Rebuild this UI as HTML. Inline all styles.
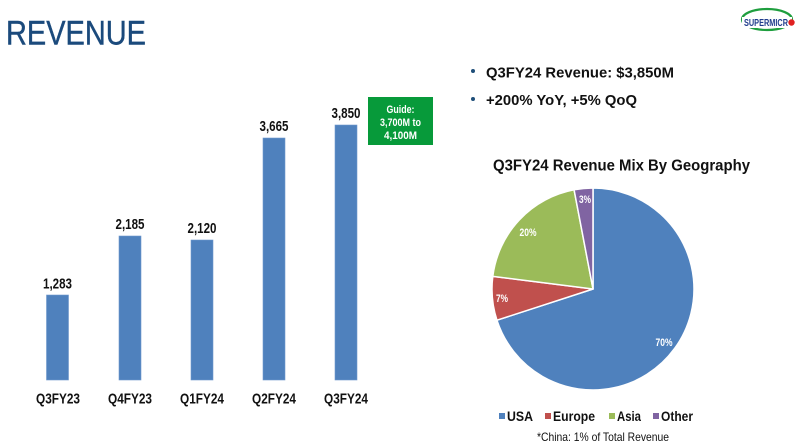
<!DOCTYPE html>
<html>
<head>
<meta charset="utf-8">
<style>
  html,body{margin:0;padding:0;background:#ffffff;}
  svg{display:block;}
  text{font-family:"Liberation Sans", Arial, sans-serif;}
</style>
</head>
<body>
<svg width="800" height="444" viewBox="0 0 800 444" xmlns="http://www.w3.org/2000/svg">
  <rect x="0" y="0" width="800" height="444" fill="#ffffff"/>

  <!-- Title -->
  <text x="6" y="44.5" font-size="34" fill="#1B4A7C" stroke="#1B4A7C" stroke-width="0.4" textLength="140" lengthAdjust="spacingAndGlyphs">REVENUE</text>

  <!-- Logo -->
  <ellipse cx="767" cy="19.5" rx="25" ry="10.5" fill="none" stroke="#1E9E3E" stroke-width="2.2"/>
  <rect x="742" y="17" width="50" height="11" fill="#ffffff"/>
  <text x="744" y="26" font-family="Liberation Serif, serif" font-size="10" font-weight="bold" fill="#1F3C8C" textLength="44" lengthAdjust="spacingAndGlyphs">SUPERMICR</text>
  <circle cx="791.5" cy="22.5" r="3.2" fill="#E02020"/>

  <!-- Bars -->
  <g fill="#4F81BD" stroke="#7099cc" stroke-width="0.6">
    <rect x="46.5" y="295" width="22" height="85"/>
    <rect x="119" y="236" width="22" height="144"/>
    <rect x="191" y="240" width="22" height="140"/>
    <rect x="263" y="138" width="22" height="242"/>
    <rect x="335" y="125" width="22" height="255"/>
  </g>

  <!-- Value labels -->
  <g font-size="15" font-weight="bold" fill="#111" text-anchor="middle">
    <text x="57.5" y="288.5" textLength="29" lengthAdjust="spacingAndGlyphs">1,283</text>
    <text x="130" y="229" textLength="29" lengthAdjust="spacingAndGlyphs">2,185</text>
    <text x="202" y="233" textLength="29" lengthAdjust="spacingAndGlyphs">2,120</text>
    <text x="274" y="131" textLength="29" lengthAdjust="spacingAndGlyphs">3,665</text>
    <text x="346" y="118" textLength="29" lengthAdjust="spacingAndGlyphs">3,850</text>
  </g>

  <!-- X labels -->
  <g font-size="15" font-weight="bold" fill="#111" text-anchor="middle">
    <text x="58" y="403.5" textLength="44" lengthAdjust="spacingAndGlyphs">Q3FY23</text>
    <text x="130" y="403.5" textLength="44" lengthAdjust="spacingAndGlyphs">Q4FY23</text>
    <text x="202" y="403.5" textLength="44" lengthAdjust="spacingAndGlyphs">Q1FY24</text>
    <text x="274" y="403.5" textLength="44" lengthAdjust="spacingAndGlyphs">Q2FY24</text>
    <text x="346" y="403.5" textLength="44" lengthAdjust="spacingAndGlyphs">Q3FY24</text>
  </g>

  <!-- Guide box -->
  <rect x="368" y="97" width="65" height="48" fill="#079A3A"/>
  <g font-size="11" font-weight="bold" fill="#ffffff" text-anchor="middle">
    <text x="400.5" y="113" textLength="28" lengthAdjust="spacingAndGlyphs">Guide:</text>
    <text x="400.5" y="126" textLength="41" lengthAdjust="spacingAndGlyphs">3,700M to</text>
    <text x="400.5" y="139" textLength="33" lengthAdjust="spacingAndGlyphs">4,100M</text>
  </g>

  <!-- Bullets -->
  <circle cx="473" cy="71" r="2" fill="#1F4E79"/>
  <circle cx="473" cy="99" r="2" fill="#1F4E79"/>
  <g font-size="15" font-weight="bold" fill="#111">
    <text x="486" y="77.5" textLength="188" lengthAdjust="spacingAndGlyphs">Q3FY24 Revenue: $3,850M</text>
    <text x="486" y="105" textLength="151" lengthAdjust="spacingAndGlyphs">+200% YoY, +5% QoQ</text>
  </g>

  <!-- Pie title -->
  <text x="493" y="170.5" font-size="16" font-weight="bold" fill="#111" textLength="257" lengthAdjust="spacingAndGlyphs">Q3FY24 Revenue Mix By Geography</text>

  <!-- Pie -->
  <g stroke="#ffffff" stroke-width="1.5" stroke-linejoin="round">
    <path d="M593,289 L593,188 A101,101 0 1 1 496.94,320.21 Z" fill="#4F81BD"/>
    <path d="M593,289 L496.94,320.21 A101,101 0 0 1 492.80,276.34 Z" fill="#C0504D"/>
    <path d="M593,289 L492.80,276.34 A101,101 0 0 1 574.07,189.79 Z" fill="#9BBB59"/>
    <path d="M593,289 L574.07,189.79 A101,101 0 0 1 593,188 Z" fill="#8064A2"/>
  </g>
  <g font-size="11" font-weight="bold" fill="#ffffff" text-anchor="middle">
    <text x="664" y="346" textLength="17" lengthAdjust="spacingAndGlyphs">70%</text>
    <text x="502" y="302" textLength="12" lengthAdjust="spacingAndGlyphs">7%</text>
    <text x="528" y="236" textLength="17" lengthAdjust="spacingAndGlyphs">20%</text>
    <text x="585" y="203" textLength="12" lengthAdjust="spacingAndGlyphs">3%</text>
  </g>

  <!-- Legend -->
  <rect x="499" y="413" width="6" height="6" fill="#4F81BD"/>
  <rect x="545" y="413" width="6" height="6" fill="#C0504D"/>
  <rect x="609" y="413" width="6" height="6" fill="#9BBB59"/>
  <rect x="653" y="413" width="6" height="6" fill="#8064A2"/>
  <g font-size="14" font-weight="bold" fill="#111">
    <text x="507" y="421" textLength="26" lengthAdjust="spacingAndGlyphs">USA</text>
    <text x="553" y="421" textLength="42" lengthAdjust="spacingAndGlyphs">Europe</text>
    <text x="617" y="421" textLength="24" lengthAdjust="spacingAndGlyphs">Asia</text>
    <text x="661" y="421" textLength="32" lengthAdjust="spacingAndGlyphs">Other</text>
  </g>
  <text x="537" y="441" font-size="12" fill="#111" textLength="132" lengthAdjust="spacingAndGlyphs">*China: 1% of Total Revenue</text>
</svg>
</body>
</html>
